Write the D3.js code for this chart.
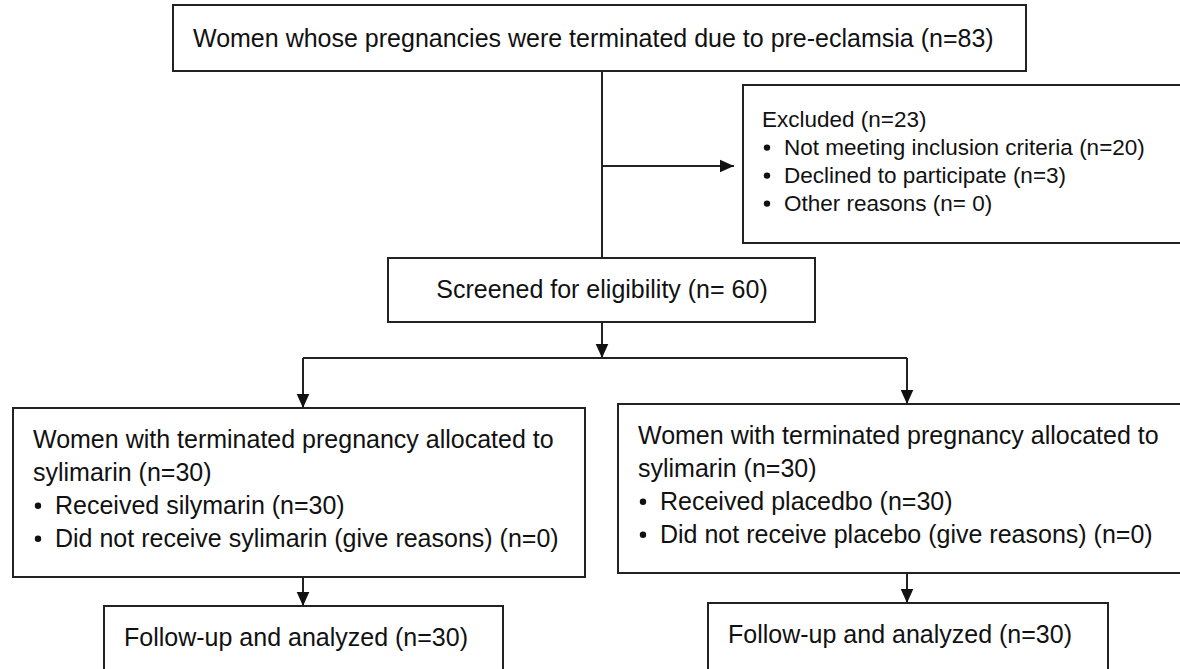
<!DOCTYPE html>
<html>
<head>
<meta charset="utf-8">
<script src="https://cdn.jsdelivr.net/npm/d3@7"></script>
<style>
  body { margin: 0; background: #fff; }
  svg { display: block; font-family: "Liberation Sans", Arial, sans-serif; }
  .box { fill: #fff; stroke: #222; stroke-width: 2; }
  .link { fill: none; stroke: #222; stroke-width: 2; }
  text { fill: #111; }
</style>
</head>
<body>
<div id="chart"></div>
<script>
// flow chart content
const enrolled = ['Women whose pregnancies were terminated due to pre-eclamsia (n=83)'];
const excluded = ['Excluded (n=23)'];
const excludedReasons = ['Not meeting inclusion criteria (n=20)', 'Declined to participate (n=3)', 'Other reasons (n= 0)'];
const screened = ['Screened for eligibility (n= 60)'];
const armSilymarin = ['Women with terminated pregnancy allocated to', 'sylimarin (n=30)'];
const armSilymarinItems = ['Received silymarin (n=30)', 'Did not receive sylimarin (give reasons) (n=0)'];
const armPlacebo = ['Women with terminated pregnancy allocated to', 'sylimarin (n=30)'];
const armPlaceboItems = ['Received placedbo (n=30)', 'Did not receive placebo (give reasons) (n=0)'];
const followUp = ['Follow-up and analyzed (n=30)'];

const width = 1180, height = 669;

// layout (pixels) - tx/ty = first text line, lh = line step
const layout = {
	top:     { x: 173, y: 5,   w: 853, h: 66,  tx: 193, ty: 47,  fs: 25,   lh: 0,  align: 'start' },
	excl:    { x: 743, y: 85,  w: 460, h: 158, tx: 762, ty: 127, fs: 22.5, lh: 28, align: 'start' },
	screen:  { x: 388, y: 258, w: 427, h: 64,  tx: 602, ty: 298, fs: 25,   lh: 0,  align: 'middle' },
	left:    { x: 13,  y: 408, w: 572, h: 169, tx: 33,  ty: 448, fs: 25,   lh: 33, align: 'start' },
	right:   { x: 618, y: 404, w: 580, h: 169, tx: 638, ty: 444, fs: 25,   lh: 33, align: 'start' },
	leftFu:  { x: 104, y: 606, w: 399, h: 80,  tx: 124, ty: 646, fs: 25,   lh: 0,  align: 'start' },
	rightFu: { x: 708, y: 603, w: 400, h: 80,  tx: 728, ty: 643, fs: 25,   lh: 0,  align: 'start' }
};

const nodes = [
	{ id: 'top', lines: enrolled, items: [] },
	{ id: 'excl', lines: excluded, items: excludedReasons },
	{ id: 'screen', lines: screened, items: [] },
	{ id: 'left', lines: armSilymarin, items: armSilymarinItems },
	{ id: 'right', lines: armPlacebo, items: armPlaceboItems },
	{ id: 'leftFu', lines: followUp, items: [] },
	{ id: 'rightFu', lines: followUp, items: [] }
];

const svg = d3.select('#chart')
	.append('svg')
	.attr('width', width)
	.attr('height', height);

svg.append('defs')
	.append('marker')
	.attr('id', 'arrow')
	.attr('viewBox', '0 0 10 10')
	.attr('refX', 10)
	.attr('refY', 5)
	.attr('markerUnits', 'userSpaceOnUse')
	.attr('markerWidth', 14)
	.attr('markerHeight', 14)
	.attr('orient', 'auto')
	.append('path')
	.attr('d', 'M0,0.5 L10,5 L0,9.5 Z')
	.style('fill', '#111');

// connectors
const L = layout;
const midX = 602;
const branchY = 166;
const splitY = 358;
const leftX = 303, rightX = 907;

const links = [
	{ pts: [[midX, L.top.y + L.top.h], [midX, L.screen.y]], arrow: false },
	{ pts: [[midX, branchY], [L.excl.x - 9, branchY]], arrow: true },
	{ pts: [[midX, L.screen.y + L.screen.h], [midX, splitY]], arrow: true },
	{ pts: [[leftX, splitY], [rightX, splitY]], arrow: false },
	{ pts: [[leftX, splitY], [leftX, L.left.y]], arrow: true },
	{ pts: [[rightX, splitY], [rightX, L.right.y]], arrow: true },
	{ pts: [[leftX, L.left.y + L.left.h], [leftX, L.leftFu.y]], arrow: true },
	{ pts: [[rightX, L.right.y + L.right.h], [rightX, L.rightFu.y]], arrow: true }
];

const line = d3.line();

svg.append('g')
	.selectAll('path')
	.data(links)
	.enter()
	.append('path')
	.attr('class', 'link')
	.attr('d', d => line(d.pts))
	.attr('marker-end', d => d.arrow ? 'url(#arrow)' : null);

// boxes
const g = svg.append('g')
	.selectAll('g')
	.data(nodes)
	.enter()
	.append('g');

g.append('rect')
	.attr('class', 'box')
	.attr('x', d => L[d.id].x)
	.attr('y', d => L[d.id].y)
	.attr('width', d => L[d.id].w)
	.attr('height', d => L[d.id].h);

g.each(function (d) {
	const p = L[d.id];
	const sel = d3.select(this);
	d.lines.forEach((t, i) => {
		sel.append('text')
			.attr('x', p.tx)
			.attr('y', p.ty + i * p.lh)
			.attr('text-anchor', p.align)
			.style('font-size', p.fs + 'px')
			.text(t);
	});
	// bullet list under the heading lines
	d.items.forEach((t, i) => {
		const y = p.ty + (d.lines.length + i) * p.lh;
		sel.append('circle')
			.attr('cx', p.tx + 5)
			.attr('cy', y - p.fs * 0.33)
			.attr('r', 3.2)
			.style('fill', '#111');
		sel.append('text')
			.attr('x', p.tx + 22)
			.attr('y', y)
			.style('font-size', p.fs + 'px')
			.text(t);
	});
});
</script>
</body>
</html>
